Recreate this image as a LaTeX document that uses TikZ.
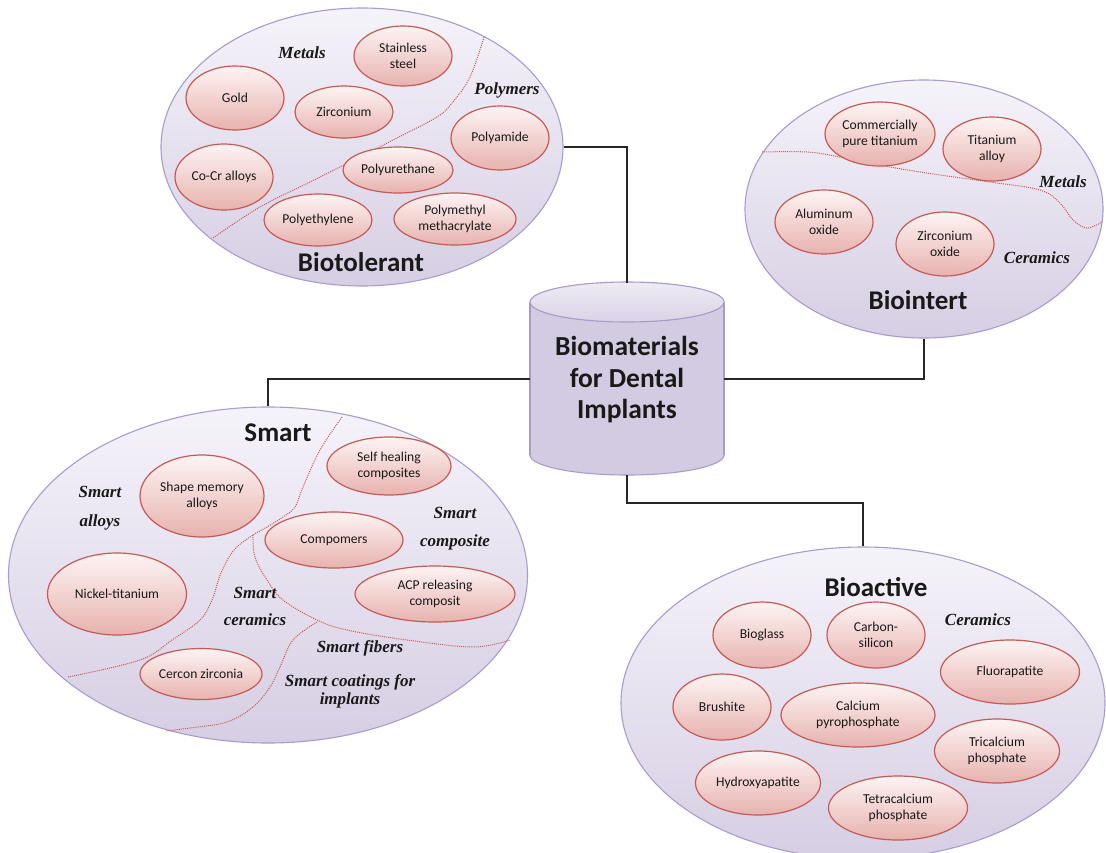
\documentclass[tikz,border=0pt]{standalone}
\usepackage{fontspec}
\newfontfamily\cfont{Carlito}
\newfontfamily\sfont{Liberation Serif}
\usetikzlibrary{shapes.geometric}
\definecolor{bigtop}{HTML}{F5F3FA}
\definecolor{bigbot}{HTML}{D6CEE3}
\definecolor{bigborder}{HTML}{A99CCB}
\definecolor{smtop}{HTML}{FDF4F3}
\definecolor{smbot}{HTML}{E7B2AF}
\definecolor{smborder}{HTML}{C55A56}
\definecolor{cylbody}{HTML}{D3CBE1}
\definecolor{cyltop}{HTML}{EEEBF4}
\begin{document}
\begin{tikzpicture}[x=1pt,y=-1pt,
  bigell/.style={ellipse, draw=bigborder, line width=1.1pt, top color=bigtop, bottom color=bigbot, inner sep=0pt},
  sm/.style={ellipse, draw=smborder, line width=1.2pt, top color=smtop, bottom color=smbot, inner sep=0pt, align=center, font=\cfont\fontsize{13.6}{16.5}\selectfont, text=black!90},
  es/.style 2 args={minimum width=#1, minimum height=#2},
  ttl/.style={font=\cfont\bfseries\fontsize{27}{31.5}\selectfont, text=black!90},
  lbl/.style={font=\sfont\bfseries\itshape\fontsize{17}{18}\selectfont, align=center, text=black!90, inner sep=0pt},
  divider/.style={draw=smborder, line width=1pt, dash pattern=on 1pt off 1.1pt},
  conn/.style={draw=black!85, line width=1.4pt}]
\useasboundingbox (0,0) rectangle (1106,852);
\fill[white] (0,0) rectangle (1106,852);

% ---------- big groups ----------
\node[bigell, minimum width=402, minimum height=278] (tol) at (362,147) {};
\node[bigell, minimum width=358, minimum height=258] (inert) at (924,209) {};
\node[bigell, minimum width=519, minimum height=336] (smart) at (268,575) {};
\node[bigell, minimum width=484, minimum height=312] (active) at (863,703) {};

% ---------- hub (cylinder) ----------
\node[minimum width=194, minimum height=192, inner sep=0pt] (hub) at (627,379) {};
\filldraw[fill=cylbody, draw=bigborder, line width=1.1pt] (627,455) ellipse [x radius=97, y radius=20];
\fill[cylbody] (530,302) rectangle (724,455);
\draw[bigborder, line width=1.1pt] (530,302) -- (530,455) (724,302) -- (724,455);
\filldraw[draw=bigborder, line width=1.1pt, top color=cyltop, bottom color=cylbody!85] (627,302) ellipse [x radius=97, y radius=20];
\node[ttl, align=center, font=\cfont\bfseries\fontsize{27.5}{31.5}\selectfont] (hubtext) at (627,380) {Biomaterials\\for Dental\\Implants};

% ---------- connectors ----------
\coordinate (jd) at (627,503);
\draw[conn] (tol.east) -| (hub.north);
\draw[conn] (hub.east) -| (inert.south);
\draw[conn] (hub.west) -| (smart.north);
\draw[conn] (hub.south) -- (jd) -| (active.north);

% ---------- Biotolerant ----------
\draw[divider] plot[smooth, tension=0.6] coordinates {(484,37) (470,77) (452,103) (437,117) (393,140) (360,157) (310,182) (260,207) (213,238)};
\node[sm, es={98}{60}] (ss) at (403,56) {Stainless\\steel};
\node[sm, es={98}{64}] (gold) at (235,98) {Gold};
\node[sm, es={98}{52}] (zr) at (344,112) {Zirconium};
\node[sm, es={98}{66}] (cocr) at (224,177) {Co-Cr alloys};
\node[sm, es={98}{64}] (pa) at (500,138) {Polyamide};
\node[sm, es={110}{46}] (pu) at (398,170) {Polyurethane};
\node[sm, es={108}{52}] (pe) at (318,220) {Polyethylene};
\node[sm, es={122}{52}] (pmma) at (455,219) {Polymethyl\\methacrylate};
\node[lbl] (tolmet) at (302,53) {Metals};
\node[lbl] (tolpol) at (507,90) {Polymers};
\node[ttl] (toltitle) at (361,262) {Biotolerant};

% ---------- Biointert ----------
\draw[divider] plot[smooth, tension=0.6] coordinates {(762,152) (807,152) (840,157) (890,167) (940,175) (990,182) (1040,190) (1060,203) (1073,220) (1087,228) (1102,222)};
\node[sm, es={110}{64}] (cpti) at (880,134) {Commercially\\pure titanium};
\node[sm, es={98}{64}] (tial) at (992,149) {Titanium\\alloy};
\node[sm, es={98}{64}] (alox) at (824,222) {Aluminum\\oxide};
\node[sm, es={98}{64}] (zrox) at (945,244) {Zirconium\\oxide};
\node[lbl] (inmet) at (1063,182) {Metals};
\node[lbl] (incer) at (1037,258) {Ceramics};
\node[ttl] (intitle) at (918,300) {Biointert};

% ---------- Smart ----------
\draw[divider] plot[smooth, tension=0.6] coordinates {(342,417) (320,450) (303,487) (295,507) (283,517) (267,527) (253,535) (234,550) (221,573) (212,600) (200,620) (172,640) (140,660) (68,677)};
\draw[divider] plot[smooth, tension=0.6] coordinates {(253,535) (255,557) (267,580) (283,600) (317,620) (347,630) (407,640) (473,647) (510,640)};
\draw[divider] plot[smooth, tension=0.6] coordinates {(317,622) (293,640) (280,667) (270,687) (253,707) (227,722) (190,728) (166,731)};
\node[sm, es={124}{82}] (sma) at (202,496) {Shape memory\\alloys};
\node[sm, es={124}{58}] (shc) at (389,466) {Self healing\\composites};
\node[sm, es={138}{56}] (comp) at (334,540) {Compomers};
\node[sm, es={139}{82}] (niti) at (117,594) {Nickel-titanium};
\node[sm, es={160}{56}] (acp) at (435,594) {ACP releasing\\composit};
\node[sm, es={122}{51}] (cerc) at (201,674) {Cercon zirconia};
\node[ttl] (smtitle) at (278,433) {Smart};
\node[lbl, font=\sfont\bfseries\itshape\fontsize{17}{29}\selectfont] (smal) at (100,508) {Smart\\alloys};
\node[lbl, font=\sfont\bfseries\itshape\fontsize{17}{28}\selectfont] (smco) at (455,529) {Smart\\composite};
\node[lbl, font=\sfont\bfseries\itshape\fontsize{17}{27}\selectfont] (smce) at (255,606) {Smart\\ceramics};
\node[lbl] (smfi) at (360,648) {Smart fibers};
\node[lbl] (smct) at (350,691) {Smart coatings for\\implants};

% ---------- Bioactive ----------
\node[sm, es={98}{66}] (bg) at (762,635) {Bioglass};
\node[sm, es={98}{66}] (csi) at (876,635) {Carbon-\\silicon};
\node[sm, es={139}{64}] (fa) at (1010,672) {Fluorapatite};
\node[sm, es={98}{66}] (br) at (722,707) {Brushite};
\node[sm, es={154}{64}] (cpp) at (858,715) {Calcium\\pyrophosphate};
\node[sm, es={125}{64}] (tcp) at (997,751) {Tricalcium\\phosphate};
\node[sm, es={125}{64}] (ha) at (758,783) {Hydroxyapatite};
\node[sm, es={139}{64}] (ttcp) at (898,808) {Tetracalcium\\phosphate};
\node[lbl] (accer) at (978,620) {Ceramics};
\node[ttl] (actitle) at (876,587) {Bioactive};
\end{tikzpicture}
\end{document}
